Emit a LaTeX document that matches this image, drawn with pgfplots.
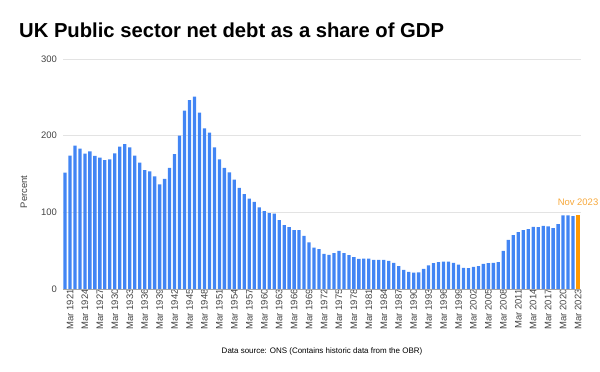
\documentclass[border=0pt]{standalone}
\usepackage{pgfplots}
\pgfplotsset{compat=1.18}
\usepackage{pgfplotstable}
\usepackage{fontspec}
\setmainfont{Liberation Sans}
\definecolor{barblue}{HTML}{4285F4}
\definecolor{barorange}{HTML}{FF9900}
\definecolor{txtorange}{HTML}{F7A83A}
\definecolor{gridgray}{HTML}{E3E3E3}
\definecolor{ticktxt}{HTML}{444444}
\pgfplotstableread{
x y
0 151.7
1 174
2 187
3 183
4 176.5
5 179.6
6 173.5
7 171.3
8 168
9 169
10 177
11 185.7
12 189
13 184.8
14 174
15 165
16 155
17 153.5
18 147
19 136.5
20 143.5
21 158
22 176
23 200
24 232.6
25 246.5
26 251
27 230
28 209.6
29 204
30 184.8
31 169
32 158
33 152
34 142.7
35 131.8
36 123.8
37 117.8
38 113.5
39 106.6
40 101.7
41 99
42 98.3
43 90
44 83.4
45 80.8
46 76.9
47 76.9
48 69.4
49 60.7
50 54.1
51 52
52 45.9
53 44.5
54 46.7
55 49.8
56 46.7
57 44.1
58 41.5
59 39.3
60 39.7
61 39.7
62 38
63 38
64 38
65 36.7
66 34
67 29.7
68 24.9
69 22.3
70 21.4
71 21.8
72 26.4
73 30.8
74 33.6
75 34.9
76 35.8
77 35.8
78 34
79 31.9
80 27.5
81 27.1
82 28.8
83 29.7
84 32.8
85 33.6
86 34
87 34.9
88 49.8
89 64.2
90 70.3
91 74.2
92 76.9
93 78.2
94 81.2
95 80.8
96 82.5
97 81.7
98 79.5
99 84.7
100 96
101 96
102 95.2
}\debtdata
\pgfplotstableread{
x y
103 97
}\novdata
\begin{document}
\begin{tikzpicture}[x=1bp,y=1bp]
\useasboundingbox (0,0) rectangle (600,371);
\node[anchor=base west, inner sep=0pt, font=\fontsize{20.3}{24}\selectfont\bfseries] at (19,334) {UK Public sector net debt as a share of GDP};
\node[rotate=90, inner sep=0pt, font=\fontsize{9.5}{11}\selectfont, text=ticktxt] at (24,179) {Percent};
\node[inner sep=0pt, font=\fontsize{8}{10}\selectfont, text=black] at (322,20) {Data source: ONS (Contains historic data from the OBR)};
\begin{axis}[
  at={(63bp,82bp)}, anchor=south west,
  scale only axis, width=518bp, height=230bp,
  xmin=-0.4, xmax=103.6, ymin=0, ymax=300,
  ybar, bar width=3.3bp, bar shift=0pt,
  axis line style={draw=none},
  axis x line*=bottom, axis y line*=left,
  ymajorgrids, grid style={gridgray, line width=0.8bp},
  ytick={0,100,200,300},
  xtick={0,3,...,102},
  xticklabels={Mar 1921,Mar 1924,Mar 1927,Mar 1930,Mar 1933,Mar 1936,Mar 1939,Mar 1942,Mar 1945,Mar 1948,Mar 1951,Mar 1954,Mar 1957,Mar 1960,Mar 1963,Mar 1966,Mar 1969,Mar 1972,Mar 1975,Mar 1978,Mar 1981,Mar 1984,Mar 1987,Mar 1990,Mar 1993,Mar 1996,Mar 1999,Mar 2002,Mar 2005,Mar 2008,Mar 2011,Mar 2014,Mar 2017,Mar 2020,Mar 2023},
  major tick length=0pt,
  xticklabel style={rotate=90, anchor=east, inner sep=0pt, xshift=0bp, yshift=-5bp, font=\fontsize{9.5}{11}\selectfont, text=ticktxt},
  yticklabel style={anchor=east, inner sep=0pt, xshift=-6bp, font=\fontsize{9.5}{11}\selectfont, text=ticktxt},
  /pgf/number format/assume math mode=true,
  clip=false,
]
\addplot[fill=barblue, draw=none] table[x=x,y=y] {\debtdata};
\addplot[fill=barorange, draw=none, nodes near coords={Nov 2023},
  every node near coord/.append style={font=\fontsize{9.5}{11}\selectfont, text=txtorange, inner sep=0pt, yshift=9bp, anchor=south}] table[x=x,y=y] {\novdata};
\draw[gray!70, line width=0.8bp] (axis cs:-0.4,0) -- (axis cs:103.6,0);
\end{axis}
\end{tikzpicture}
\end{document}
